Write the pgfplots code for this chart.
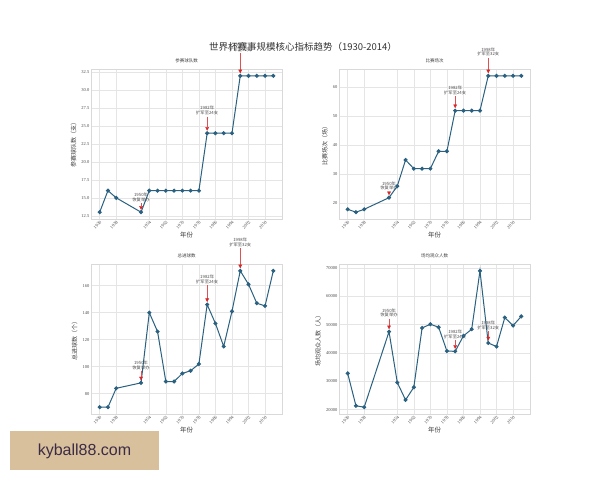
\documentclass[border=0pt]{standalone}
\usepackage{fontspec}
\setmainfont{Liberation Serif}
\newfontfamily\cjk{Noto Sans CJK SC}
\newfontfamily\wmfont{Liberation Sans}
\usepackage{pgfplots}
\pgfplotsset{compat=1.18}
\usepackage{pgfplotstable}
\usetikzlibrary{arrows.meta}
\definecolor{lc}{HTML}{2A6181}
\definecolor{ar}{HTML}{D62728}
\definecolor{wm}{HTML}{D9C09D}
\definecolor{wmtext}{HTML}{3B2B45}

\pgfplotstableread{
year teams matches goals att
1930 13 18 70 32808
1934 16 17 70 21352
1938 15 18 84 20872
1950 13 22 88 47511
1954 16 26 140 29561
1958 16 35 126 23423
1962 16 32 89 27911
1966 16 32 89 48848
1970 16 32 95 50124
1974 16 38 97 49099
1978 16 38 102 40678
1982 24 52 146 40572
1986 24 52 132 46039
1990 24 52 115 48388
1994 24 52 141 68991
1998 32 64 171 43517
2002 32 64 161 42269
2006 32 64 147 52491
2010 32 64 145 49670
2014 32 64 171 52918
}\wcdata

\pgfplotsset{
 wcline/.style={color=lc, line width=1pt, mark=*, mark size=1.5pt,
     mark options={fill=lc, draw=lc, solid}},
 wc/.style={
  scale only axis, width=191pt, height=150pt,
  at={#1}, anchor=south west,
  xmin=1925.8, xmax=2018.2,
  xtick={1930,1938,1954,1962,1970,1978,1986,1994,2002,2010},
  /pgf/number format/assume math mode=true,
  scaled y ticks=false,
  xticklabel style={/pgf/number format/1000 sep={}, rotate=45, anchor=north east,
     font=\fontsize{4.5}{5}\selectfont, text=black!70, inner sep=1pt},
  yticklabel style={/pgf/number format/1000 sep={}, font=\fontsize{4.5}{5}\selectfont, text=black!70, inner sep=1.5pt},
  grid=major, major grid style={black!10, line width=0.4pt},
  axis line style={black!15}, major tick length=0pt,
  title style={font=\cjk\fontsize{4.5}{5}\selectfont, text=black!75, yshift=-3.5pt},
  xlabel={年份},
  xlabel style={font=\cjk\fontsize{6.5}{7}\selectfont, text=black!75, yshift=2pt},
  ylabel style={font=\cjk\fontsize{6}{7}\selectfont, text=black!75},
  clip=false,
 }
}

\newcommand\ann[4]{%
 \draw[ar!80, line width=0.35pt, -{Triangle[width=3.6pt,length=3.6pt,fill=ar,color=ar]},
   shorten >=2.5pt, shorten <=0.5pt] (axis cs:#1,#3) -- (axis cs:#1,#2);
 \node[anchor=south, align=center, font=\cjk\fontsize{4.3}{4.8}\selectfont, text=black!70, inner sep=0.8pt]
   at (axis cs:#1,#3) {#4};
}

\begin{document}
\begin{tikzpicture}
\fill[white] (0,0) rectangle (600pt,480pt);
\path[use as bounding box] (0,0) rectangle (600pt,480pt);

% top-left: teams
\begin{axis}[wc={(91pt,261pt)}, title={参赛球队数}, ylabel={参赛球队数（支）},
  ymin=12.05, ymax=32.95, ytick={12.5,15,17.5,20,22.5,25,27.5,30,32.5},
  yticklabel style={/pgf/number format/.cd, fixed, fixed zerofill, precision=1}]
\addplot[wcline] table[x=year, y=teams] {\wcdata};
\ann{1950}{13}{14.3}{1950年\\恢复举办}
\ann{1982}{24}{26.4}{1982年\\扩军至24支}
\ann{1998}{32}{35.2}{1998年\\扩军至32支}
\end{axis}

% top-right: matches
\begin{axis}[wc={(339pt,261pt)}, title={比赛场次}, ylabel={比赛场次（场）},
  ymin=14.65, ymax=66.35, ytick={20,30,40,50,60}]
\addplot[wcline] table[x=year, y=matches] {\wcdata};
\ann{1950}{22}{24.2}{1950年\\恢复举办}
\ann{1982}{52}{57.2}{1982年\\扩军至24支}
\ann{1998}{64}{70.4}{1998年\\扩军至32支}
\end{axis}

% bottom-left: goals
\begin{axis}[wc={(91pt,66pt)}, title={总进球数}, ylabel={总进球数（个）},
  ymin=64.95, ymax=176.05, ytick={80,100,120,140,160}]
\addplot[wcline] table[x=year, y=goals] {\wcdata};
\ann{1950}{88}{96.8}{1950年\\恢复举办}
\ann{1982}{146}{160.6}{1982年\\扩军至24支}
\ann{1998}{171}{188.1}{1998年\\扩军至32支}
\end{axis}

% bottom-right: attendance
\begin{axis}[wc={(339pt,66pt)}, title={场均观众人数}, ylabel={场均观众人数（人）},
  ymin=18466, ymax=71397, ytick={20000,30000,40000,50000,60000,70000}]
\addplot[wcline] table[x=year, y=att] {\wcdata};
\ann{1950}{47511}{52262}{1950年\\恢复举办}
\ann{1982}{40572}{44629}{1982年\\扩军至24支}
\ann{1998}{43517}{47869}{1998年\\扩军至32支}
\end{axis}

\node[font=\cjk\fontsize{9.5}{11}\selectfont, text=black!80] at (303pt,433pt)
  {世界杯赛事规模核心指标趋势（1930-2014）};

\fill[wm] (10pt,10pt) rectangle (159pt,49pt);
\node[font=\wmfont\fontsize{16}{18}\selectfont, text=wmtext] at (84.5pt,29pt) {kyball88.com};
\end{tikzpicture}
\end{document}
